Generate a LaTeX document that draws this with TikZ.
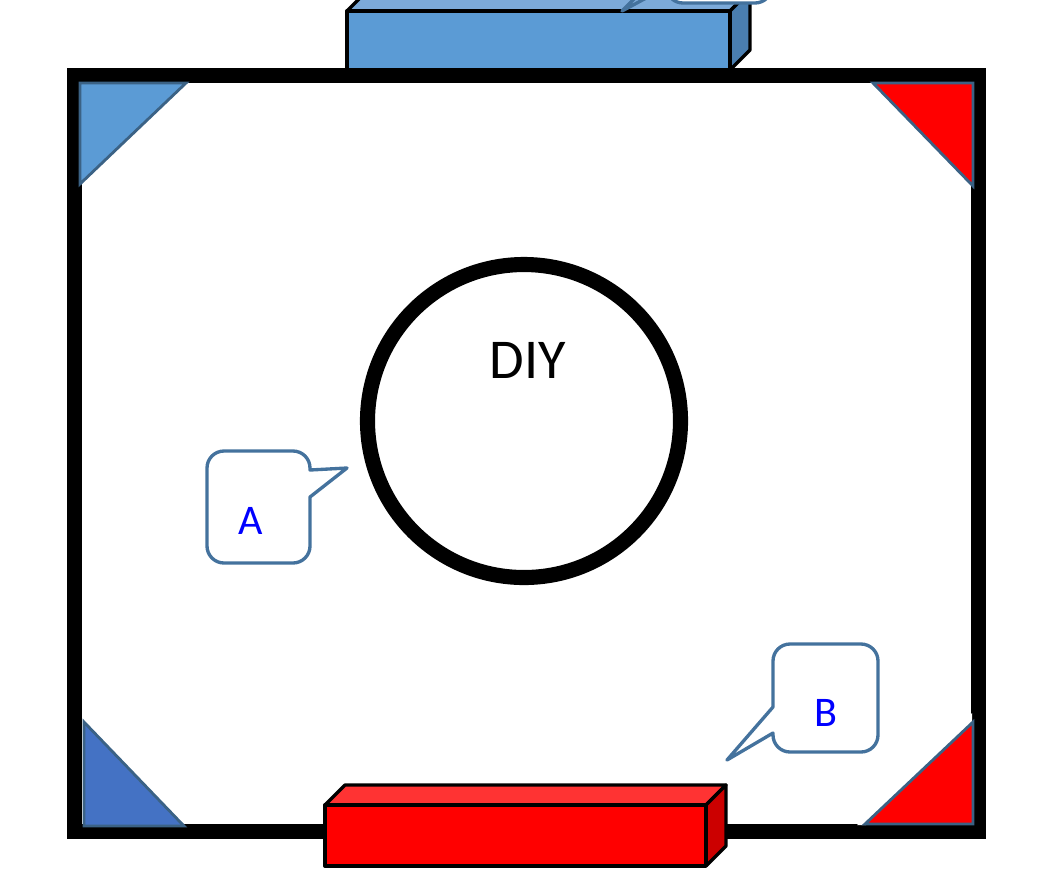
\documentclass[tikz,border=0pt]{standalone}
\usepackage{fontspec}
\setmainfont{Carlito}
\definecolor{blockblue}{HTML}{5B9BD5}
\definecolor{blockbluetop}{HTML}{7CAAD9}
\definecolor{blockblueside}{HTML}{4A7EB0}
\definecolor{blockred}{HTML}{FF0000}
\definecolor{blockredtop}{HTML}{FF3333}
\definecolor{blockredside}{HTML}{CC0000}
\definecolor{cornerblue}{HTML}{4472C4}
\definecolor{cornerline}{HTML}{3B6285}
\definecolor{bubbleline}{HTML}{44729D}
\tikzset{
	frameline/.style={draw=black, line width=8.6pt, miter limit=10},
	ringline/.style={draw=black, line width=8.6pt},
	blockline/.style={draw=black, line width=1.9pt, line join=round},
	cornerpiece/.style={draw=cornerline, line width=1.6pt, line join=miter},
	bubble/.style={draw=bubbleline, fill=white, line width=1.9pt, line join=round},
	bubbletext/.style={text=blue, font=\fontsize{24}{28}\selectfont},
	bigtext/.style={text=black, font=\fontsize{32}{38}\selectfont}
}
\def\block[#1,#2,#3](#4,#5,#6,#7){
	\draw[blockline, fill=#1] (#4, #6) -- (#4+20, #6-20) -- (#5+20, #6-20) -- (#5, #6) -- cycle;
	\draw[blockline, fill=#3] (#5, #6) -- (#5+20, #6-20) -- (#5+20, #7-20) -- (#5, #7) -- cycle;
	\draw[blockline, fill=#2] (#4, #6) rectangle (#5, #7);
}

\begin{document}
\begin{tikzpicture}[x=0.02cm, y=-0.02cm]
	\useasboundingbox (0, 0) rectangle (1058, 894);
	\begin{scope}
	\clip (0, 0) rectangle (1058, 894);
	%%%%% FRAME %%%%%
	\draw[frameline] (74.5, 75.5) rectangle (978.5, 831.5);
	\draw[ringline] (524, 421) circle (156.5);
	
	%%%%% CORNERS %%%%%
	\draw[cornerpiece, fill=blockblue] (80, 83) -- (186, 83) -- (80, 184) -- cycle;
	\draw[cornerpiece, fill=blockred] (873, 83) -- (973, 83) -- (973, 186) -- cycle;
	\fill[white] (857, 825) -- (972, 713) -- (972, 722) -- (866, 825) -- cycle;
	\draw[cornerpiece, fill=blockred] (865, 824) -- (973, 722) -- (973, 824) -- cycle;
	\draw[cornerpiece, fill=cornerblue] (84, 722) -- (184, 826) -- (84, 826) -- cycle;
	
	%%%%% BLOCKS %%%%%
	\block[blockbluetop,blockblue,blockblueside](347,730,11,70)
	\block[blockredtop,blockred,blockredside](325,706,805,866)
	
	%%%%% BUBBLES %%%%%
	\draw[bubble, fill=blockbluetop] (622, 11) -- (636, -3) -- (648, -3) -- cycle;
	\draw[bubble] (683, 3) -- (755, 3) arc (90:0:17) -- (772, -40) -- (666, -40) -- (666, -14) arc (180:90:17) -- cycle;
	\draw[bubble] (224, 451) -- (293, 451) arc (-90:0:17) -- (310, 470) -- (347, 468) -- (310, 497) -- (310, 546) arc (0:90:17) -- (224, 563) arc (90:180:17) -- (207, 468) arc (180:270:17) -- cycle;
	\draw[bubble] (790, 644) -- (861, 644) arc (-90:0:17) -- (878, 735) arc (0:90:17) -- (790, 752) arc (90:180:17) -- (773, 733) -- (727, 760) -- (773, 707) -- (773, 661) arc (180:270:17) -- cycle;
	
	%%%%% TEXT %%%%%
	\node[bigtext] (diy) at (528, 360) {DIY};
	\node[bubbletext] (labela) at (251, 521) {A};
	\node[bubbletext] (labelb) at (826, 713) {B};
	\end{scope}
\end{tikzpicture}
\end{document}
